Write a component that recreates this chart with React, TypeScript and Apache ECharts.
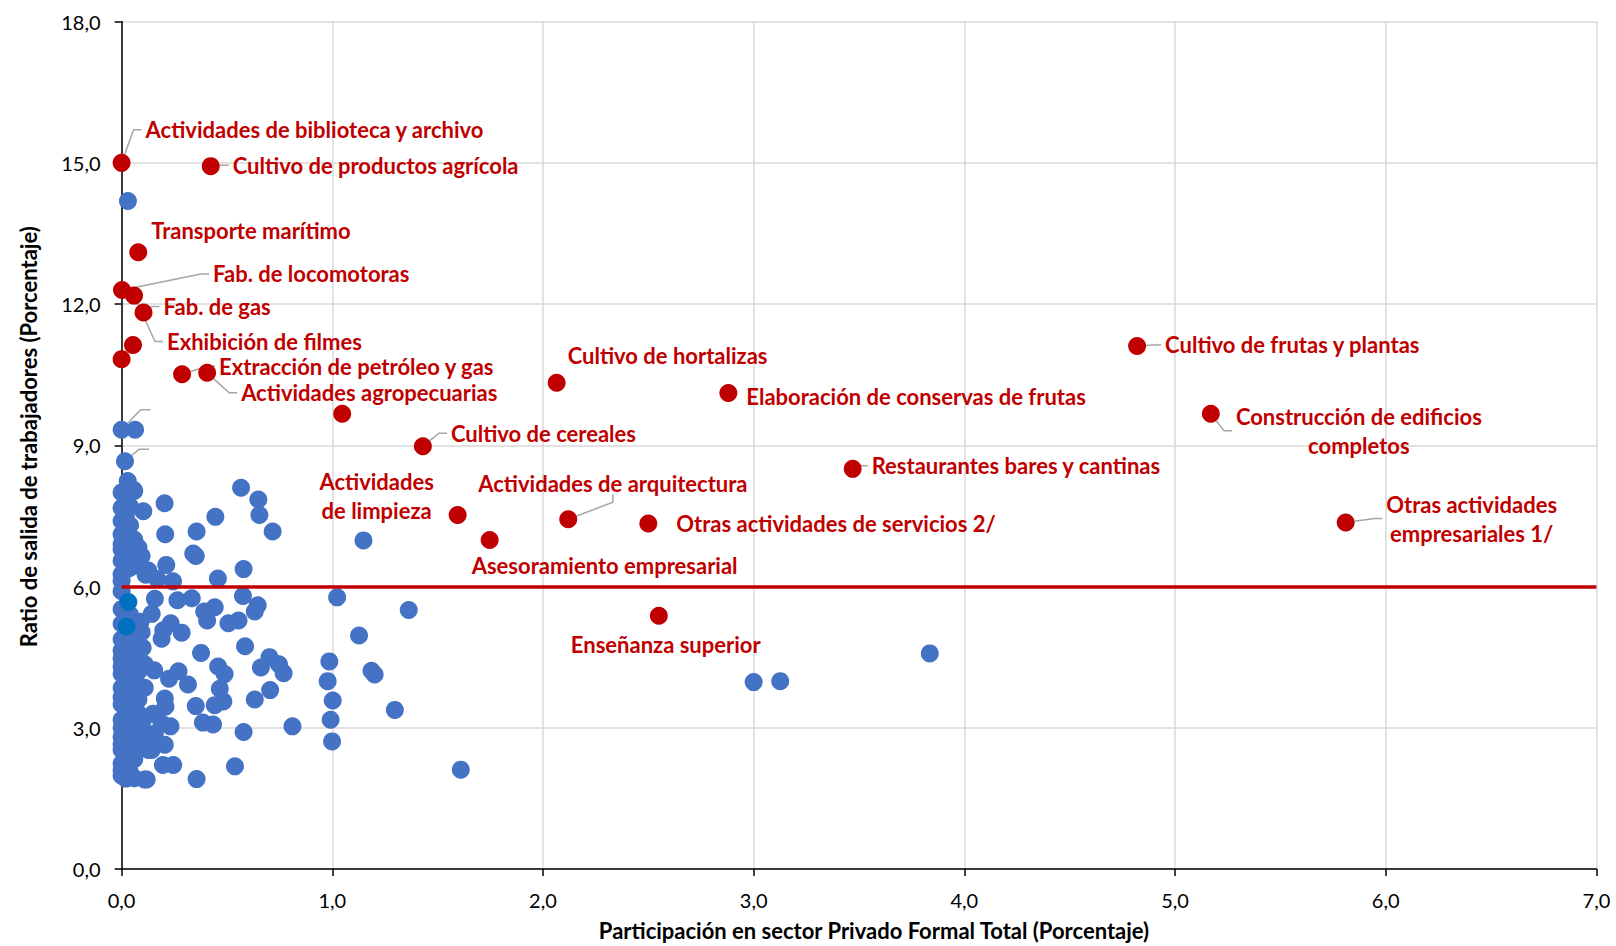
import React, { useEffect, useRef } from "react";
import * as echarts from "echarts";

// Axis ticks
const xTicks = [0, 1, 2, 3, 4, 5, 6, 7];
const yTicks = [0, 3, 6, 9, 12, 15, 18];
const threshold = 6.0;

// Unlabelled sectors (blue)
const otherSectors: [number, number][] = [
  [0, 8.0], [0, 7.67], [0, 7.39], [0, 7.11], [0, 6.9], [0, 6.79], [0, 6.55], [0, 6.26], [0, 6.12], [0, 5.9],
  [0, 5.52], [0, 5.21], [0, 4.88], [0, 4.64], [0, 4.47], [0, 4.3], [0, 4.15], [0, 3.85], [0, 3.65], [0, 3.5],
  [0, 3.17], [0, 3.0], [0, 2.81], [0, 2.65], [0, 2.53], [0, 2.24], [0, 2.1], [0, 1.98],
  [0.02, 7.85], [0.02, 7.5], [0.02, 7.2], [0.02, 6.95], [0.02, 6.6], [0.02, 6.35], [0.02, 5.35], [0.02, 5.0],
  [0.02, 4.7], [0.02, 4.4], [0.02, 4.1], [0.02, 3.75], [0.02, 3.4], [0.02, 3.05], [0.02, 2.7], [0.02, 2.4],
  [0.02, 2.15], [0.02, 1.92],
  [0.04, 7.7], [0.04, 7.3], [0.04, 6.7], [0.04, 6.4], [0.04, 5.4], [0.04, 4.95], [0.04, 4.6], [0.04, 4.25],
  [0.04, 3.9], [0.04, 3.55], [0.04, 3.25], [0.04, 2.9], [0.04, 2.6], [0.04, 2.3], [0.04, 2.05],
  [0.06, 8.03], [0.06, 7.0], [0.06, 6.6], [0.06, 4.8], [0.06, 4.64], [0.06, 4.08], [0.06, 3.7], [0.06, 3.44],
  [0.06, 3.09], [0.06, 2.75], [0.06, 2.45], [0.06, 2.33], [0.06, 1.93],
  [0.08, 6.83], [0.08, 6.45], [0.08, 4.5], [0.08, 4.2], [0.08, 3.9], [0.08, 3.6], [0.08, 3.3], [0.08, 2.95], [0.08, 2.6],
  [0.095, 6.65], [0.095, 5.03], [0.103, 7.6], [0.11, 4.35], [0.11, 3.85], [0.1, 3.15], [0.12, 2.85], [0.127, 6.34],
  [0.127, 2.53], [0.119, 1.9], [0.15, 3.3], [0.135, 2.56], [0.143, 5.42], [0.1, 4.7], [0.09, 5.25],
  [0.03, 14.19], [0.029, 8.24], [0.056, 8.06], [0.204, 7.77], [0.567, 8.1], [0.649, 7.85],
  [0.654, 7.52], [0.717, 7.17], [0.445, 7.48], [0.207, 7.11], [0.356, 7.17], [0.34, 6.7], [0.352, 6.65], [1.148, 6.98],
  [0.212, 6.46], [0.579, 6.37], [0.457, 6.17], [0.244, 6.11], [0.169, 6.16], [0.114, 6.25], [0.158, 5.74], [0.265, 5.71],
  [0.333, 5.75], [0.576, 5.8], [0.646, 5.6], [0.632, 5.47], [1.023, 5.77], [1.363, 5.5], [0.392, 5.47], [0.442, 5.56],
  [0.406, 5.28], [0.507, 5.22], [0.555, 5.28], [0.233, 5.22], [0.285, 5.02], [0.198, 5.07], [0.19, 4.89], [1.127, 4.96],
  [0.377, 4.59], [0.586, 4.73], [0.702, 4.5], [0.747, 4.35], [0.769, 4.16], [0.661, 4.28], [0.986, 4.41], [0.978, 3.99],
  [1.186, 4.21], [1.201, 4.13], [0.458, 4.3], [0.489, 4.14], [0.27, 4.2], [0.225, 4.04], [0.155, 4.22], [0.315, 3.92],
  [0.466, 3.83], [0.705, 3.8], [0.632, 3.6], [1.002, 3.58], [1.297, 3.38], [0.483, 3.56], [0.442, 3.48], [0.352, 3.46],
  [0.205, 3.62], [0.208, 3.45], [0.386, 3.11], [0.434, 3.07], [0.579, 2.91], [0.811, 3.03], [0.992, 3.17], [0.999, 2.71],
  [0.538, 2.18], [0.356, 1.91], [0.109, 1.9], [0.196, 2.21], [0.245, 2.21], [0.205, 2.64], [0.143, 2.53], [0.19, 3.09],
  [0.232, 3.03], [0.158, 2.88], [1.61, 2.11], [3.0, 3.97], [3.126, 3.99], [3.836, 4.58],
];

// Blue sectors with an empty guide line
const guidedSectors: [number, number][] = [
  [0, 9.33], [0.016, 8.66],
];
const guidedSectorsExtra: [number, number][] = [[0.064, 9.33]];

// Highlighted (darker blue) sectors
const darkSectors: [number, number][] = [
  [0.032, 5.67], [0.024, 5.15],
];

// Highlighted sectors (red)
const redNames = [
  "Actividades de biblioteca y archivo",
  "Cultivo de productos agrícola",
  "Transporte marítimo",
  "Fab. de locomotoras",
  "Exhibición de filmes",
  "Fab. de gas",
  "",
  "",
  "Extracción de petróleo y gas",
  "Actividades agropecuarias",
  "",
  "Cultivo de cereales",
  "Cultivo de hortalizas",
  "Elaboración de conservas de frutas",
  "Cultivo de frutas y plantas",
  "Construcción de edificios\ncompletos",
  "Restaurantes bares y cantinas",
  "Actividades\nde limpieza",
  "Actividades de arquitectura",
  "Otras actividades de servicios 2/",
  "Asesoramiento empresarial",
  "Otras actividades\nempresariales 1/",
  "Enseñanza superior",
];
const redX = [0, 0.423, 0.079, 0.002, 0.059, 0.104, 0.054, 0, 0.287, 0.406, 1.047, 1.43, 2.065, 2.88, 4.82, 5.17, 3.47, 1.595, 2.12, 2.5, 1.747, 5.81, 2.55];
const redY = [15.0, 14.93, 13.1, 12.3, 12.18, 11.82, 11.13, 10.83, 10.51, 10.54, 9.67, 8.98, 10.33, 10.11, 11.11, 9.67, 8.5, 7.52, 7.43, 7.34, 6.99, 7.36, 5.38];

// Label placement (pixel offsets from each point), kept apart from the data
const redLabelLayout: { dx: number; dy: number; align: string; line: boolean }[] = [
  { dx: 20, dy: -33, align: "left", line: true },
  { dx: 18, dy: -1, align: "left", line: true },
  { dx: 9, dy: -22, align: "left", line: false },
  { dx: 87, dy: -16, align: "left", line: true },
  { dx: 29, dy: 46, align: "left", line: true },
  { dx: 16, dy: -6, align: "left", line: true },
  { dx: 0, dy: 0, align: "left", line: false },
  { dx: 0, dy: 0, align: "left", line: false },
  { dx: 33, dy: -8, align: "left", line: true },
  { dx: 30, dy: 20, align: "left", line: true },
  { dx: 0, dy: 0, align: "left", line: false },
  { dx: 24, dy: -13, align: "left", line: true },
  { dx: 7, dy: -27, align: "left", line: false },
  { dx: 14, dy: 3, align: "left", line: false },
  { dx: 24, dy: -1, align: "left", line: true },
  { dx: 148, dy: 17, align: "center", line: true },
  { dx: 15, dy: -3, align: "left", line: true },
  { dx: -81, dy: -19, align: "center", line: false },
  { dx: -94, dy: -36, align: "left", line: true },
  { dx: 24, dy: 0, align: "left", line: false },
  { dx: -22, dy: 26, align: "left", line: false },
  { dx: 126, dy: -4, align: "center", line: true },
  { dx: -92, dy: 29, align: "left", line: false },
];
const guideLayout = [
  { dx: 29, dy: -20 },
  { dx: 24, dy: -12 },
];

const RED = "#C00000";
const BLUE = "#4472C4";
const DARK = "#0070C0";
const FONT = "Lato";

const fmt = (v: number) => v.toFixed(1).replace(".", ",");

export default function App() {
  const ref = useRef<HTMLDivElement>(null);
  useEffect(() => {
    if (!ref.current) return;
    const chart = echarts.init(ref.current, undefined, { renderer: "svg" });

    const redData = redNames.map((n, i) => ({
      name: n,
      value: [redX[i], redY[i]],
      label: { show: n !== "", lineHeight: n.indexOf("\n") >= 0 ? 29 : 22 },
      labelLine: { show: redLabelLayout[i].line },
    }));

    const option: any = {
      animation: false,
      backgroundColor: "#ffffff",
      grid: { left: 121.6, right: 19.6, top: 21.6, bottom: 73 },
      xAxis: {
        type: "value",
        min: xTicks[0],
        max: xTicks[xTicks.length - 1],
        interval: 1,
        name: "Participación en sector Privado Formal Total (Porcentaje)",
        nameLocation: "middle",
        nameGap: 50,
        nameTextStyle: { fontFamily: FONT, fontWeight: "bold", fontSize: 22, color: "#000", padding: [0, 0, 0, 30] },
        axisLine: { show: true, onZero: false, lineStyle: { color: "#000", width: 1.5 } },
        axisTick: { show: true, length: 7, lineStyle: { color: "#000", width: 1.5 } },
        axisLabel: { formatter: fmt, fontFamily: FONT, fontSize: 20, color: "#000", margin: 21 },
        splitLine: { show: true, lineStyle: { color: "#D9D9D9", width: 1.5 } },
      },
      yAxis: {
        type: "value",
        min: yTicks[0],
        max: yTicks[yTicks.length - 1],
        interval: 3,
        name: "Ratio de salida de trabajadores (Porcentaje)",
        nameLocation: "middle",
        nameGap: 82,
        nameTextStyle: { fontFamily: FONT, fontWeight: "bold", fontSize: 22, color: "#000", padding: [0, 0, 0, 17] },
        axisLine: { show: true, onZero: false, lineStyle: { color: "#000", width: 1.5 } },
        axisTick: { show: true, length: 7, lineStyle: { color: "#000", width: 1.5 } },
        axisLabel: { formatter: fmt, fontFamily: FONT, fontSize: 20, color: "#000", margin: 21 },
        splitLine: { show: true, lineStyle: { color: "#D9D9D9", width: 1.5 } },
      },
      series: [
        {
          type: "scatter",
          name: "otros",
          data: otherSectors.concat(guidedSectorsExtra),
          symbolSize: 18,
          itemStyle: { color: BLUE, opacity: 1 },
          z: 2,
        },
        {
          type: "scatter",
          name: "guias",
          data: guidedSectors,
          symbolSize: 18,
          itemStyle: { color: BLUE, opacity: 1 },
          label: { show: true, formatter: " ", fontSize: 10, padding: 0 },
          labelLine: { show: true, length2: 10, lineStyle: { color: "#A6A6A6", width: 1.5 } },
          labelLayout: (p: any) => {
            const o = guideLayout[p.dataIndex];
            return { x: p.rect.x + p.rect.width / 2 + o.dx, y: p.rect.y + p.rect.height / 2 + o.dy, align: "left", verticalAlign: "middle" };
          },
          z: 3,
        },
        {
          type: "scatter",
          name: "destacados",
          data: darkSectors,
          symbolSize: 18,
          itemStyle: { color: DARK, opacity: 1 },
          z: 3,
        },
        {
          type: "scatter",
          name: "sectores",
          data: redData,
          symbolSize: 18,
          itemStyle: { color: RED, opacity: 1 },
          z: 5,
          label: {
            show: true,
            formatter: (p: any) => p.name,
            fontFamily: FONT,
            fontWeight: "bold",
            fontSize: 22,
            lineHeight: 22,
            color: RED,
            padding: [0, 4],
          },
          labelLine: { show: true, length2: 8, lineStyle: { color: "#A6A6A6", width: 1.5 } },
          labelLayout: (p: any) => {
            const o = redLabelLayout[p.dataIndex];
            return {
              x: p.rect.x + p.rect.width / 2 + o.dx,
              y: p.rect.y + p.rect.height / 2 + o.dy,
              align: o.align,
              verticalAlign: "middle",
            };
          },
          markLine: {
            silent: true,
            symbol: "none",
            label: { show: false },
            lineStyle: { color: RED, width: 3.5, type: "solid" },
            data: [{ yAxis: threshold }],
            z: 4,
          },
        },
      ],
    };
    chart.setOption(option);
    return () => chart.dispose();
  }, []);
  return <div ref={ref} style={{ position: "absolute", left: 0, top: 0, width: 1616, height: 946 }} />;
}
